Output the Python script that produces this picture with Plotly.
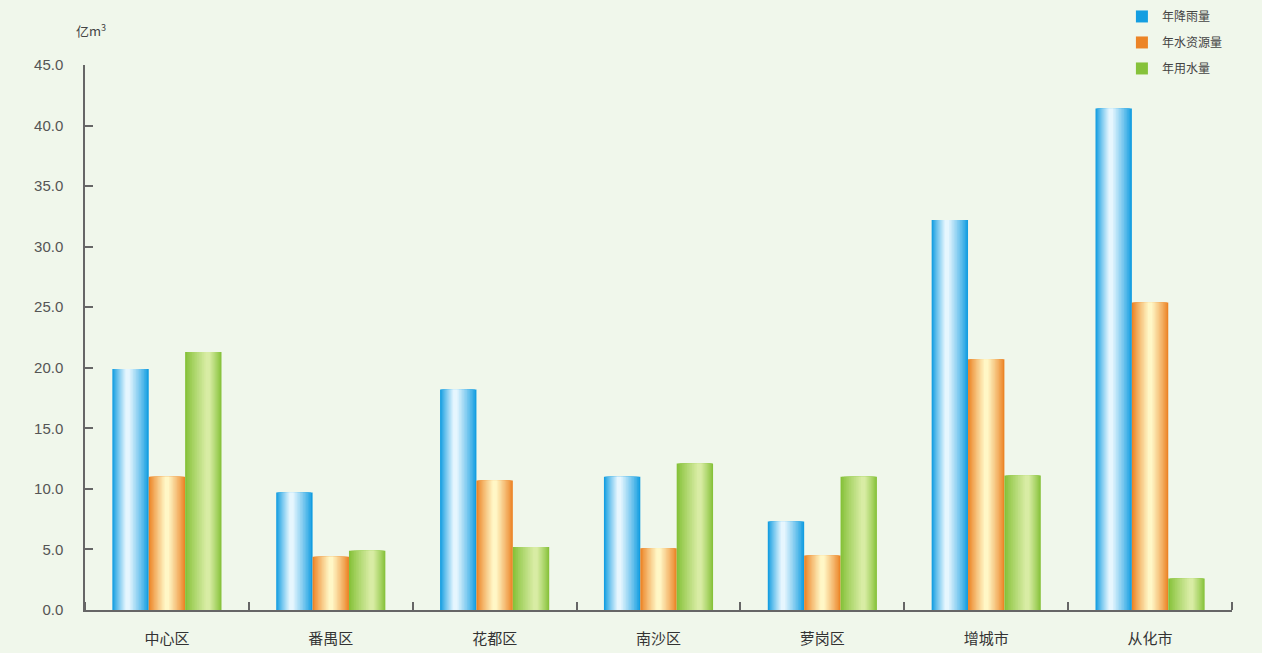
import plotly.graph_objects as go

categories = ["中心区", "番禺区", "花都区", "南沙区", "萝岗区", "增城市", "从化市"]
series_names = ["年降雨量", "年水资源量", "年用水量"]
rainfall = [19.9, 9.7, 18.2, 11.0, 7.3, 32.2, 41.4]
water_resources = [11.0, 4.4, 10.7, 5.1, 4.5, 20.7, 25.4]
water_use = [21.3, 4.9, 5.2, 12.1, 11.0, 11.1, 2.6]
y_ticks = [0, 5, 10, 15, 20, 25, 30, 35, 40, 45]

series_values = [rainfall, water_resources, water_use]
edge_colors = [(20, 158, 225), (236, 132, 38), (134, 194, 58)]
light_colors = [(230, 246, 254), (255, 247, 198), (216, 236, 164)]
highlight_pos = [0.42, 0.5, 0.62]

bar_w = 0.222
n_layers = 12
x_idx = list(range(len(categories)))

def mix(a, b, f):
    return "rgb(%d,%d,%d)" % tuple(round(a[i] + (b[i] - a[i]) * f) for i in range(3))

fig = go.Figure()
for s, (name, vals) in enumerate(zip(series_names, series_values)):
    center_shift = (s - 1) * bar_w
    for j in range(n_layers + 1):
        f = j / n_layers
        width = bar_w * (1 - 0.88 * f)
        c_off = center_shift + (highlight_pos[s] - 0.5) * bar_w * f
        fig.add_trace(go.Bar(
            x=x_idx, y=vals,
            width=[width] * len(vals),
            offset=[c_off - width / 2] * len(vals),
            marker=dict(color=mix(edge_colors[s], light_colors[s], f ** 0.9), line=dict(width=0)),
            name=name, legendgroup=name, showlegend=(j == 0),
            hoverinfo="skip" if j else None,
        ))

fig.update_layout(
    width=1262, height=653,
    barmode="overlay",
    paper_bgcolor="#f0f7eb", plot_bgcolor="#f0f7eb",
    margin=dict(l=85, r=30, t=65, b=43, autoexpand=False),
    font=dict(family="Noto Sans CJK SC, Liberation Sans, sans-serif", color="#444"),
    legend=dict(xref="container", yref="container", x=0.889, y=0.997,
                xanchor="left", yanchor="top",
                bgcolor="rgba(0,0,0,0)", font=dict(size=12, color="#444"),
                traceorder="grouped", tracegroupgap=7),
    xaxis=dict(range=[-0.5, 6.5], tickvals=x_idx, ticktext=categories, ticks="",
               showline=True, linecolor="#666", linewidth=1.5, showgrid=False,
               zeroline=False, tickfont=dict(size=15, color="#333"),
               ticklabelstandoff=14,
               minor=dict(tick0=-0.5, dtick=1, ticks="inside", ticklen=8,
                          tickcolor="#666", tickwidth=1.5, showgrid=False)),
    yaxis=dict(range=[0, 45], tickvals=y_ticks, tickformat=".1f", ticks="inside",
               ticklen=8, tickcolor="#666", tickwidth=1.5,
               showline=True, linecolor="#666", linewidth=1.5, showgrid=False,
               zeroline=False, tickfont=dict(size=15, color="#555",
                                             family="Liberation Sans, Arial, sans-serif"),
               ticklabelstandoff=17),
)
fig.add_annotation(text="亿m<sup>3</sup>", xref="paper", yref="paper",
                   x=-0.010, y=1.065, xanchor="left", yanchor="middle",
                   showarrow=False, font=dict(size=13, color="#444"))

fig.write_html("out.html", config={"displayModeBar": False},
               post_script="document.body.style.margin='0';document.body.style.overflow='hidden';")
